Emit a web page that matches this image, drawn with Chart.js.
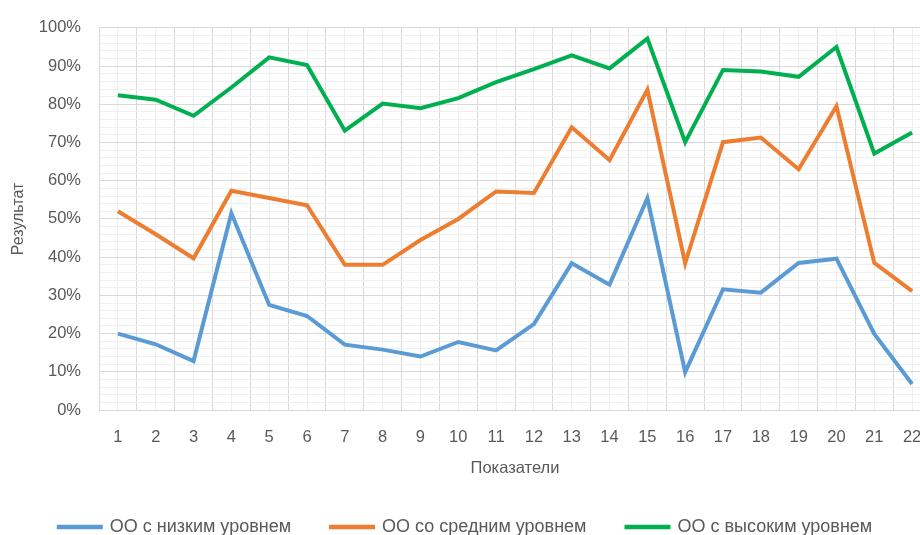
<!DOCTYPE html>
<html>
<head>
<meta charset="utf-8">
<script src="https://cdn.jsdelivr.net/npm/chart.js@4"></script>
<style>
  html, body { margin: 0; padding: 0; background: #fff; overflow: hidden; }
  #wrap { width: 944px; height: 535px; }
</style>
</head>
<body>
<div id="wrap"><canvas id="myChart" width="944" height="535"></canvas></div>
<script>
'use strict'

// Показатели 1..22
const labels = ['1','2','3','4','5','6','7','8','9','10','11','12','13','14','15','16','17','18','19','20','21','22'];

const lowValues  = [20, 17.2, 12.8, 51.5, 27.5, 24.6, 17.1, 15.8, 14, 17.8, 15.6, 22.5, 38.4, 32.8, 55.4, 9.9, 31.6, 30.7, 38.5, 39.6, 19.9, 6.8];
const midValues  = [52, 46, 39.7, 57.4, 55.5, 53.6, 38, 38, 44.5, 50, 57.2, 56.8, 74, 65.4, 83.8, 38.4, 70.1, 71.3, 63, 79.5, 38.5, 31.1];
const highValues = [82.4, 81.2, 77, 84.4, 92.3, 90.3, 73.1, 80.2, 79, 81.6, 85.8, 89.2, 92.8, 89.4, 97.2, 70.1, 89, 88.6, 87.2, 95, 67.1, 72.6];

const seriesNames = ['ОО с низким уровнем', 'ОО со средним уровнем', 'ОО с высоким уровнем'];
const seriesColors = ['#5B9BD5', '#ED7D31', '#00B050'];

const textColor = '#595959';
const fontFamily = "'Liberation Sans', Arial, sans-serif";

function makeSet(i, values) {
  return {
    label: seriesNames[i],
    data: values,
    borderColor: seriesColors[i],
    backgroundColor: seriesColors[i],
    borderWidth: 4,
    pointRadius: 0,
    pointHoverRadius: 0,
    tension: 0,
    xAxisID: 'x'
  };
}

const ctx = document.getElementById('myChart');

new Chart(ctx, {
  type: 'line',
  data: {
    labels: labels,
    datasets: [makeSet(0, lowValues), makeSet(1, midValues), makeSet(2, highValues)]
  },
  options: {
    responsive: false,
    animation: false,
    layout: { padding: { top: 18, right: 13, left: 0, bottom: -11 } },
    plugins: {
      tooltip: { enabled: false },
      legend: {
        position: 'bottom',
        labels: {
          boxWidth: 42,
          boxHeight: 0.5,
          padding: 40,
          color: textColor,
          font: { family: fontFamily, size: 18 }
        }
      }
    },
    scales: {
      x: {
        type: 'category',
        offset: true,
        grid: { offset: true, color: '#d9d9d9', lineWidth: 1, drawTicks: false },
        border: { color: '#d9d9d9' },
        ticks: { color: textColor, font: { family: fontFamily, size: 16.5 }, padding: 18, maxRotation: 0, autoSkip: false },
        title: { display: true, text: 'Показатели', color: textColor, font: { family: fontFamily, size: 16.5 }, padding: { top: 10, bottom: 0 } },
        afterFit: function (scale) { scale.height = 68; }
      },
      x2: {
        type: 'category',
        position: 'top',
        offset: true,
        grid: { offset: false, color: '#efefef', lineWidth: 1, drawTicks: false },
        border: { display: false },
        ticks: { display: false },
        afterFit: function (scale) { scale.height = 0; }
      },
      y: {
        min: 0,
        max: 100,
        grid: {
          drawTicks: false,
          color: function (c) { return (c.tick && c.tick.value % 10 === 0) ? '#d9d9d9' : '#f0f0f0'; }
        },
        border: { color: '#d9d9d9' },
        ticks: {
          stepSize: 2,
          autoSkip: false,
          padding: 18,
          color: textColor,
          font: { family: fontFamily, size: 16.5 },
          callback: function (v) { return v % 10 === 0 ? v + '%' : ''; }
        },
        title: { display: true, text: 'Результат', color: textColor, font: { family: fontFamily, size: 16 }, padding: { top: 9, bottom: 4 } },
        afterFit: function (scale) { scale.width = 99; }
      }
    }
  }
});
</script>
</body>
</html>
